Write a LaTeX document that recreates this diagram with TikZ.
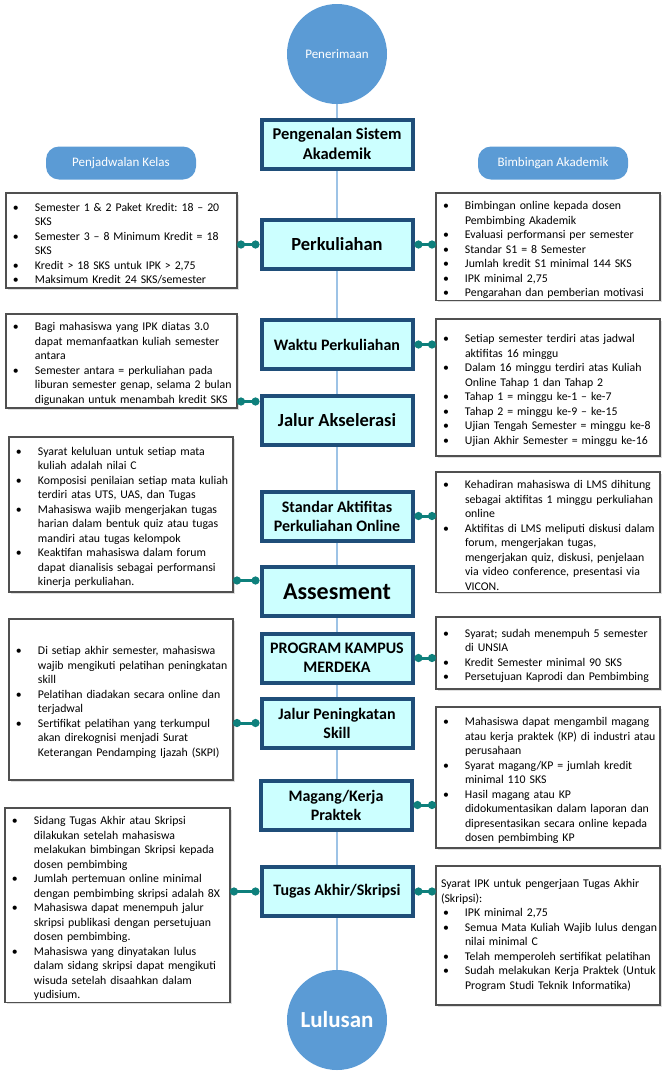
\documentclass[tikz,border=0pt]{standalone}
\usepackage{fontspec}
\setmainfont{Carlito}
\usepackage{tikz}
\usetikzlibrary{arrows.meta,shapes,positioning,shadows,backgrounds}
\usepackage{xcolor}
\definecolor{pnavy}{RGB}{31,78,121}
\definecolor{pcyan}{RGB}{204,255,255}
\definecolor{pblue}{RGB}{91,155,213}
\definecolor{plightblue}{RGB}{157,195,230}
\definecolor{pteal}{RGB}{14,128,124}
\definecolor{pgrey}{RGB}{80,80,80}
\tikzstyle{link} = [line width=3pt,draw=pteal,{Circle[length=8pt]}-{Circle[length=8pt]}]
\tikzstyle{spine} = [line width=1.3pt,draw=plightblue]
\tikzstyle{stagebox} = [rectangle, draw=pnavy, line width=4pt, fill=pcyan, minimum width=151pt, minimum height=49pt, text centered, align=center, font=\bfseries\fontsize{16}{19}\selectfont, drop shadow={shadow xshift=2pt, shadow yshift=-2pt, opacity=0.35, fill=pnavy!40}]
\tikzstyle{notebox} = [rectangle, draw=pgrey, line width=1.2pt, fill=white, anchor=north west, outer sep=0pt, inner xsep=3pt, inner ysep=2pt, font=\fontsize{11.8}{14.5}\selectfont, execute at begin node={\raggedright\rightskip=-12pt plus 2em\relax\hyphenpenalty=10000 \frenchspacing}, drop shadow={shadow xshift=1.5pt, shadow yshift=-1.5pt, opacity=0.25, fill=gray}]
\tikzstyle{headpill} = [rectangle, rounded corners=13pt, fill=pblue, text=white, minimum width=150pt, minimum height=33pt, font=\fontsize{13}{15}\selectfont]
\tikzstyle{endpoint} = [circle, fill=pblue, text=white, minimum size=100pt, inner sep=0pt]
\newcommand{\bul}{\par\noindent\hangindent=26pt\hangafter=1\makebox[26pt][l]{\hspace{4pt}\textbullet}}
\hfuzz=30pt

\begin{document}
\begin{tikzpicture}[x=1pt,y=-1pt]
\useasboundingbox (0,0) rectangle (669,1077);

% Main column
\node[endpoint, font=\fontsize{13}{15}\selectfont] (penerimaan) at (337,54) {Penerimaan};
\node[stagebox, font=\bfseries\fontsize{16.5}{20}\selectfont] (pengenalan) at (337,144) {Pengenalan Sistem\\Akademik};
\node[stagebox, font=\bfseries\fontsize{18.5}{22}\selectfont] (perkuliahan) at (337,244.5) {Perkuliahan};
\node[stagebox] (waktu) at (337,344.5) {Waktu Perkuliahan};
\node[stagebox, font=\bfseries\fontsize{18.5}{22}\selectfont] (akselerasi) at (337,420.5) {Jalur Akselerasi};
\node[stagebox] (standar) at (337,516) {Standar Aktifitas\\Perkuliahan Online};
\node[stagebox, font=\bfseries\fontsize{24}{28}\selectfont] (assesment) at (337,591.5) {Assesment};
\node[stagebox] (merdeka) at (337,658) {PROGRAM KAMPUS\\MERDEKA};
\node[stagebox] (skill) at (337,723) {Jalur Peningkatan\\Skill};
\node[stagebox] (magang) at (336,805) {Magang/Kerja\\Praktek};
\node[stagebox] (skripsi) at (337,891.5) {Tugas Akhir/Skripsi};
\node[endpoint, font=\bfseries\fontsize{23}{26}\selectfont] (lulusan) at (337,1020) {Lulusan};

\begin{scope}[on background layer]
\draw[spine] (penerimaan) -- (lulusan);
\end{scope}

% Headers
\node[headpill] (jadwal) at (121,163) {Penjadwalan Kelas};
\node[headpill] (bimbingan) at (553,163) {Bimbingan Akademik};

% Left notes
\node[notebox, text width=225pt, minimum height=95pt] (kredit) at (6,193) {%
\bul Semester 1 \& 2 Paket Kredit: 18 – 20\newline SKS
\bul Semester 3 – 8 Minimum Kredit = 18\newline SKS
\bul Kredit > 18 SKS untuk IPK > 2,75
\bul Maksimum Kredit 24 SKS/semester\par};
\node[notebox, text width=225pt, minimum height=94pt] (antara) at (6,314) {%
\bul Bagi mahasiswa yang IPK diatas 3.0\newline dapat memanfaatkan kuliah semester\newline antara
\bul Semester antara = perkuliahan pada\newline liburan semester genap, selama 2 bulan\newline digunakan untuk menambah kredit SKS\par};
\node[notebox, text width=218pt, minimum height=155pt] (nilai) at (9,437) {%
\bul Syarat keluluan untuk setiap mata\newline kuliah adalah nilai C
\bul Komposisi penilaian setiap mata kuliah\newline terdiri atas UTS, UAS, dan Tugas
\bul Mahasiswa wajib mengerjakan tugas\newline harian dalam bentuk quiz atau tugas\newline mandiri atau tugas kelompok
\bul Keaktifan mahasiswa dalam forum\newline dapat dianalisis sebagai performansi\newline kinerja perkuliahan.\par};
\node[notebox, text width=218pt, minimum height=161pt] (pelatihan) at (9,619) {%
\bul Di setiap akhir semester, mahasiswa\newline wajib mengikuti pelatihan peningkatan\newline skill
\bul Pelatihan diadakan secara online dan\newline terjadwal
\bul Sertifikat pelatihan yang terkumpul\newline akan direkognisi menjadi Surat\newline Keterangan Pendamping Ijazah (SKPI)\par};
\node[notebox, text width=219pt, minimum height=191pt] (sidang) at (5,808) {%
\bul Sidang Tugas Akhir atau Skripsi\newline dilakukan setelah mahasiswa\newline melakukan bimbingan Skripsi kepada\newline dosen pembimbing
\bul Jumlah pertemuan online minimal\newline dengan pembimbing skripsi adalah 8X
\bul Mahasiswa dapat menempuh jalur\newline skripsi publikasi dengan persetujuan\newline dosen pembimbing.
\bul Mahasiswa yang dinyatakan lulus\newline dalam sidang skripsi dapat mengikuti\newline wisuda setelah disaahkan dalam\newline yudisium.\par};

% Right notes
\node[notebox, text width=218pt, minimum height=102pt] (standarsks) at (436,193) {%
\bul Bimbingan online kepada dosen\newline Pembimbing Akademik
\bul Evaluasi performansi per semester
\bul Standar S1 = 8 Semester
\bul Jumlah kredit S1 minimal 144 SKS
\bul IPK minimal 2,75
\bul Pengarahan dan pemberian motivasi\par};
\node[notebox, text width=218pt, minimum height=137pt] (jadwalmg) at (436,319) {%
\bul Setiap semester terdiri atas jadwal\newline aktifitas 16 minggu
\bul Dalam 16 minggu terdiri atas Kuliah\newline Online Tahap 1 dan Tahap 2
\bul Tahap 1 = minggu ke-1 – ke-7
\bul Tahap 2 = minggu ke-9 – ke-15
\bul Ujian Tengah Semester = minggu ke-8
\bul Ujian Akhir Semester = minggu ke-16\par};
\node[notebox, text width=218pt, minimum height=118pt] (lms) at (436,472) {%
\bul Kehadiran mahasiswa di LMS dihitung\newline sebagai aktifitas 1 minggu perkuliahan\newline online
\bul Aktifitas di LMS meliputi diskusi dalam\newline forum, mengerjakan tugas,\newline mengerjakan quiz, diskusi, penjelaan\newline via video conference, presentasi via\newline VICON.\par};
\node[notebox, text width=218pt, minimum height=72pt] (syaratmbkm) at (436,617) {%
\bul Syarat; sudah menempuh 5 semester\newline di UNSIA
\bul Kredit Semester minimal 90 SKS
\bul Persetujuan Kaprodi dan Pembimbing\par};
\node[notebox, text width=218pt, minimum height=141pt] (kp) at (436,707) {%
\bul Mahasiswa dapat mengambil magang\newline atau kerja praktek (KP) di industri atau\newline perusahaan
\bul Syarat magang/KP = jumlah kredit\newline minimal 110 SKS
\bul Hasil magang atau KP\newline didokumentasikan dalam laporan dan\newline dipresentasikan secara online kepada\newline dosen pembimbing KP\par};
\node[notebox, text width=218pt, minimum height=139pt] (syaratta) at (436,866) {%
\noindent\hangindent=2pt\hangafter=0 Syarat IPK untuk pengerjaan Tugas Akhir\newline (Skripsi):
\bul IPK minimal 2,75
\bul Semua Mata Kuliah Wajib lulus dengan\newline nilai minimal C
\bul Telah memperoleh sertifikat pelatihan
\bul Sudah melakukan Kerja Praktek (Untuk\newline Program Studi Teknik Informatika)\par};

% Connections
\coordinate (akselin) at ([yshift=19pt]akselerasi.west);
\coordinate (assesin) at ([yshift=11pt]assesment.west);
\draw[link] (kredit.east |- perkuliahan.west) -- (perkuliahan.west);
\draw[link] (antara.east |- akselin) -- (akselin);
\draw[link] (nilai.east |- assesin) -- (assesin);
\draw[link] (pelatihan.east |- skill.west) -- (skill.west);
\draw[link] (sidang.east |- skripsi.west) -- (skripsi.west);
\draw[link] (perkuliahan.east) -- (standarsks.west |- perkuliahan.east);
\draw[link] (waktu.east) -- (jadwalmg.west |- waktu.east);
\draw[link] (standar.east) -- (lms.west |- standar.east);
\draw[link] (merdeka.east) -- (syaratmbkm.west |- merdeka.east);
\draw[link] (magang.east) -- (kp.west |- magang.east);
\draw[link] (skripsi.east) -- (syaratta.west |- skripsi.east);

\end{tikzpicture}
\end{document}
